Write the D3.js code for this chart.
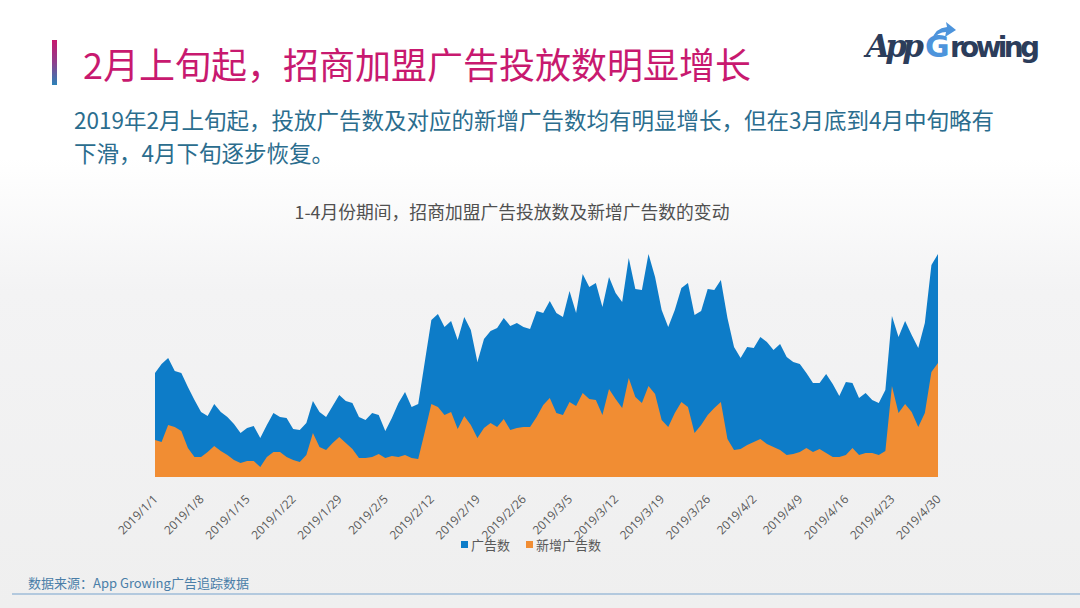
<!DOCTYPE html>
<html><head><meta charset="utf-8">
<script src="https://cdn.jsdelivr.net/npm/d3@7"></script>
<style>
html,body{margin:0;padding:0;width:1080px;height:608px;overflow:hidden;background:#fff;}
svg{display:block;font-family:"Noto Sans CJK SC","Noto Sans",sans-serif;}
</style></head>
<body>
<svg id="c" width="1080" height="608"></svg>
<script>
// ---- data ----
const startDate = "2019/1/1";
const seriesNames = ["广告数", "新增广告数"];
const adCount = [104,113,119,106,104,90,77,65,61,73,
  65,60,53,44,49,51,39,52,64,60,
  59,48,47,54,76,65,60,71,82,76,
  74,60,57,64,62,46,59,74,85,70,
  73,115,157,163,150,156,137,160,147,115,
  138,146,149,159,151,154,150,148,166,164,
  176,164,160,186,164,203,190,194,170,200,
  184,175,219,188,187,223,200,167,150,167,
  189,194,162,166,188,187,197,159,130,119,
  130,129,140,135,127,133,120,115,113,104,
  94,94,103,93,81,95,94,79,84,77,
  74,87,161,140,156,142,129,154,212,223];
const newAdCount = [37,35,52,50,46,29,20,20,25,31,
  26,22,17,14,16,16,10,20,25,25,
  20,17,15,22,44,30,27,34,40,34,
  28,19,19,20,23,19,21,20,22,19,
  18,45,73,70,62,65,48,61,52,39,
  49,54,50,58,47,49,50,50,60,72,
  79,64,62,75,71,84,78,77,62,88,
  78,69,99,80,74,91,83,57,50,64,
  75,70,44,52,62,69,75,38,27,28,
  32,35,38,33,30,27,22,23,25,29,
  25,28,24,20,20,22,29,22,24,24,
  22,26,91,64,73,65,50,64,105,114];
const tickLabels = ["2019/1/1","2019/1/8","2019/1/15","2019/1/22","2019/1/29","2019/2/5","2019/2/12",
  "2019/2/19","2019/2/26","2019/3/5","2019/3/12","2019/3/19","2019/3/26","2019/4/2","2019/4/9",
  "2019/4/16","2019/4/23","2019/4/30"];
const titleText = "2月上旬起，招商加盟广告投放数明显增长";
const subLines = ["2019年2月上旬起，投放广告数及对应的新增广告数均有明显增长，但在3月底到4月中旬略有","下滑，4月下旬逐步恢复。"];
const chartTitle = "1-4月份期间，招商加盟广告投放数及新增广告数的变动";
const sourceText = "数据来源：App Growing广告追踪数据";

// ---- drawing ----
const svg = d3.select("#c");
const defs = svg.append("defs");
const bg = defs.append("linearGradient").attr("id","bg").attr("x1",0).attr("y1",0).attr("x2",0).attr("y2",1);
bg.append("stop").attr("offset","0").attr("stop-color","#ffffff");
bg.append("stop").attr("offset","0.26").attr("stop-color","#ffffff");
bg.append("stop").attr("offset","0.48").attr("stop-color","#f3f3f4");
bg.append("stop").attr("offset","1").attr("stop-color","#efefef");
svg.append("rect").attr("width",1080).attr("height",608).attr("fill","url(#bg)");

const bar = defs.append("linearGradient").attr("id","bar").attr("x1",0).attr("y1",0).attr("x2",0).attr("y2",1);
bar.append("stop").attr("offset","0").attr("stop-color","#c8176e");
bar.append("stop").attr("offset","0.5").attr("stop-color","#8e3f8c");
bar.append("stop").attr("offset","1").attr("stop-color","#2c82b8");
svg.append("rect").attr("x",52).attr("y",40).attr("width",5).attr("height",45).attr("fill","url(#bar)");

svg.append("text").attr("x",83).attr("y",79).attr("font-size",36).attr("fill","#c8196f").text(titleText);

const sub = svg.append("text").attr("font-size",22.5).attr("fill","#2b6d8e");
sub.selectAll("tspan").data(subLines).join("tspan")
  .attr("x",74).attr("y",(d,i)=>129+i*33).text(d=>d);

// logo
const logo = svg.append("g");
logo.append("text").attr("x",866).attr("y",57).attr("font-family","DejaVu Serif").attr("font-style","italic")
  .attr("font-weight","bold").attr("font-size",31).attr("fill","#2c3d5b").attr("textLength",58).text("App");
logo.append("text").attr("x",925).attr("y",57).attr("font-family","DejaVu Sans").attr("font-weight","bold")
  .attr("font-size",30).attr("fill","#4d94dc").text("G");
logo.append("path").attr("d","M932,40 Q935,28 947,27 L946,22 L956,30 L945,37 L946,32 Q938,32 932,40 Z").attr("fill","#4d94dc");
logo.append("text").attr("x",950).attr("y",57).attr("font-family","DejaVu Sans").attr("font-weight","bold")
  .attr("font-size",28).attr("fill","#2c3d5b").attr("textLength",90).text("rowing");

// chart
svg.append("text").attr("x",512).attr("y",219).attr("text-anchor","middle").attr("font-size",17.8)
  .attr("fill","#505050").text(chartTitle);

const parse = d3.timeParse("%Y/%m/%d");
const t0 = parse(startDate);
const dates = adCount.map((_,i)=>d3.timeDay.offset(t0,i));
const x = d3.scaleTime().domain([dates[0], dates[dates.length-1]]).range([155,938]);
const y = d3.scaleLinear().domain([0,230]).range([477,247]);

const area = vals => d3.area().x((d,i)=>x(dates[i])).y0(y(0)).y1(d=>y(d))(vals);
svg.append("path").attr("d",area(adCount)).attr("fill","#0d7cc8");
svg.append("path").attr("d",area(newAdCount)).attr("fill","#f18d33");

const ax = svg.append("g").attr("transform","translate(0,477)")
  .call(d3.axisBottom(x).tickValues(tickLabels.map(parse)).tickFormat(d3.timeFormat("%Y/%-m/%-d")).tickSize(0));
ax.select(".domain").remove();
ax.selectAll("text").attr("font-family","\"Open Sans\",\"Noto Sans\",sans-serif").attr("font-size",12).attr("fill","#595959")
  .attr("text-anchor","end").attr("dy",0).attr("y",0)
  .attr("transform","translate(3,23) rotate(-45)");

// legend
const leg = svg.append("g");
const legX = [461, 526];
const legC = ["#0d7cc8","#f18d33"];
seriesNames.forEach((n,i)=>{
  leg.append("rect").attr("x",legX[i]).attr("y",541).attr("width",7).attr("height",7).attr("fill",legC[i]);
  leg.append("text").attr("x",legX[i]+10).attr("y",550).attr("font-size",13).attr("fill","#595959").text(n);
});

// footer
svg.append("text").attr("x",28).attr("y",588).attr("font-size",13).attr("fill","#4a7ea8").text(sourceText);
svg.append("line").attr("x1",12).attr("x2",1080).attr("y1",594).attr("y2",594).attr("stroke","#9fbdd8").attr("stroke-width",1.5);
</script>
</body></html>
